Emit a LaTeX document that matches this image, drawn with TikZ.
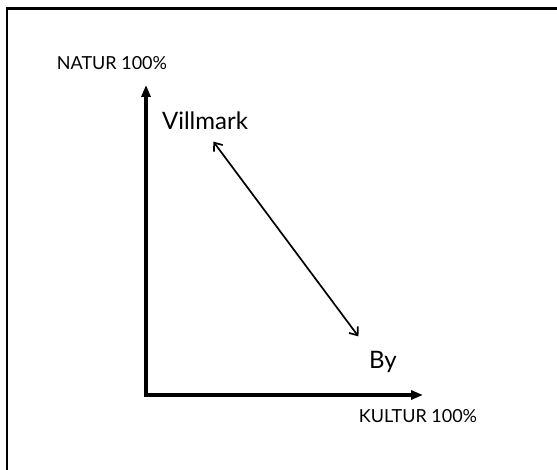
\documentclass[tikz,border=0pt]{standalone}
\usepackage{fontspec}
\setmainfont{Lato}
\usetikzlibrary{arrows.meta}
\tikzset{
    frameline/.style={line width=2.6pt, line cap=rect},
    axis/.style={line width=3.6pt, -{Triangle[length=12pt, width=9pt]}},
    twoway/.style={line width=1.7pt, {Straight Barb[length=7pt, width=11pt]}-{Straight Barb[length=7pt, width=11pt]}},
    axislab/.style={font=\fontsize{18}{20}\selectfont, inner sep=0pt, anchor=base},
    placelab/.style={font=\fontsize{24}{28}\selectfont, inner sep=0pt, anchor=base}
}
\begin{document}
\begin{tikzpicture}[x=1pt, y=-1pt]
    \useasboundingbox (0,0) rectangle (557,470);

    % Frame (top and left edges only)
    \draw[frameline] (7,470) -- (7,8.5) -- (557,8.5);

    % Axes
    \coordinate (o) at (146,395);
    \coordinate (ytop) at (146,85);
    \coordinate (xend) at (423,395);
    \draw[axis] ([yshift=-1.8pt]o) -- (ytop);
    \draw[axis] ([xshift=-1.8pt]o) -- (xend);

    % Axis labels
    \node[axislab] (natur) at (112,70) {NATUR 100\%};
    \node[axislab] (kultur) at (418,422) {KULTUR 100\%};

    % Places
    \node[placelab] (vill) at (205,130) {Villmark};
    \node[placelab] (by) at (383,368) {By};

    % Two-way arrow between them
    \draw[twoway, shorten <=14pt, shorten >=17.7pt] (vill.south) -- (by.north west);
\end{tikzpicture}
\end{document}
